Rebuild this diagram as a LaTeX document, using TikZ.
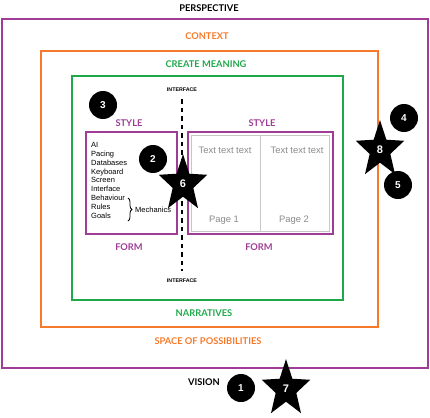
\documentclass[tikz,border=0pt]{standalone}
\usepackage{fontspec}
\setmainfont{Liberation Sans}
\newfontfamily\titlefont{Lato}
\usetikzlibrary{positioning,shapes.geometric,decorations.pathreplacing}
\definecolor{plum}{HTML}{A03C96}
\definecolor{tangerine}{HTML}{F7792B}
\definecolor{leaf}{HTML}{1FA84A}
\definecolor{pagegray}{HTML}{8A8A8A}

\begin{document}
\begin{tikzpicture}[
    x=1pt, y=-1pt,
    frame/.style={draw, line width=1.8pt},
    title/.style={font=\titlefont\bfseries\fontsize{9.3}{11}\selectfont},
    small/.style={font=\bfseries\fontsize{5.3}{6}\selectfont},
    item/.style={font=\fontsize{7.5}{8.9}\selectfont, align=left, anchor=north west, inner sep=0pt},
    pagetext/.style={font=\fontsize{9.4}{11}\selectfont, text=pagegray},
    dot/.style={circle, fill=black, text=white, minimum size=28pt, inner sep=0pt,
                font=\bfseries\fontsize{10}{11}\selectfont},
    starmark/.style={star, star points=5, star point ratio=2.35, fill=black,
                     minimum size=51pt, inner sep=0pt, yscale=1.17, transform shape},
    starnum/.style={text=white, font=\bfseries\fontsize{11}{12}\selectfont}
]
\useasboundingbox (0,0) rectangle (430,417);

% Frames
\draw[frame, plum] (2,19) rectangle (428,368);
\draw[frame, tangerine] (41,51) rectangle (378,327);
\draw[frame, leaf] (72,76) rectangle (343,300);

% Frame titles
\node[title] (perspective) at (209,8) {PERSPECTIVE};
\node[title, text=tangerine] (context) at (207,36) {CONTEXT};
\node[title, text=leaf] (meaning) at (206,64) {CREATE MEANING};
\node[title, text=leaf] (narratives) at (204,313) {NARRATIVES};
\node[title, text=tangerine] (space) at (208,341) {SPACE OF POSSIBILITIES};
\node[title] (vision) at (204,382) {VISION};

% Interface line
\node[small] (iftop) at (182,90) {INTERFACE};
\node[small] (ifbot) at (182,281) {INTERFACE};
\draw[line width=1.6pt, dash pattern=on 4.5pt off 4pt] (iftop.south) ++(0,4) coordinate (a)
    (ifbot.north) ++(0,-5) coordinate (b) (a) -- (b);

% Form / style boxes
\draw[frame, plum] (86,132) rectangle (177,234);
\draw[frame, plum] (188,132) rectangle (333,234);
\draw[black!22, line width=0.8pt] (191,135) rectangle (329,231) (260,135) -- (260,231);
\node[title, text=plum] (styleL) at (129,123) {STYLE};
\node[title, text=plum] (formL) at (129,247) {FORM};
\node[title, text=plum] (styleR) at (262,123) {STYLE};
\node[title, text=plum] (formR) at (259,247) {FORM};

% Mechanics list
\node[item] (list) at (91,142) {AI\\Pacing\\Databases\\Keyboard\\Screen\\Interface\\Behaviour\\Rules\\Goals};
\draw[decorate, decoration={brace, amplitude=4pt}, line width=0.8pt] (128,198) -- (128,221);
\node[item, anchor=west] (mech) at (135,209.5) {Mechanics};

% Pages
\node[pagetext] (text1) at (225,150) {Text text text};
\node[pagetext] (text2) at (297,150) {Text text text};
\node[pagetext] (page1) at (224,220) {Page 1};
\node[pagetext] (page2) at (294,220) {Page 2};

% Markers
\node[dot] (n1) at (241,388) {1};
\node[dot] (n2) at (153,159) {2};
\node[dot] (n3) at (103,105) {3};
\node[dot] (n4) at (404,118) {4};
\node[dot] (n5) at (398,185) {5};
\node[starmark] (n6) at (183,184) {};
\node[starmark] (n7) at (286,389) {};
\node[starmark] (n8) at (380,150) {};
\node[starnum] (l6) at (n6.center) {6};
\node[starnum] (l7) at (n7.center) {7};
\node[starnum] (l8) at (n8.center) {8};

\end{tikzpicture}
\end{document}
